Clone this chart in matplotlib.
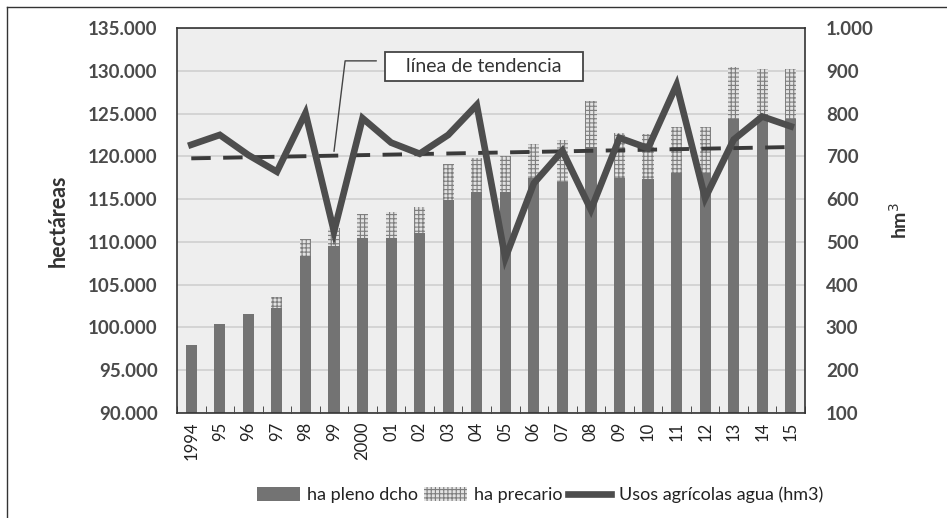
import numpy as np
import matplotlib
matplotlib.use("Agg")
import matplotlib.pyplot as plt
from matplotlib.patches import Patch
from matplotlib.lines import Line2D

plt.rcParams['font.family'] = ['Lato', 'DejaVu Sans']
plt.rcParams['hatch.linewidth'] = 0.8

years = ["1994", "95", "96", "97", "98", "99", "2000", "01", "02", "03", "04",
         "05", "06", "07", "08", "09", "10", "11", "12", "13", "14", "15"]
ha_pleno = [97950, 100400, 101600, 102250, 108300, 109500, 110400, 110400, 111000,
            114900, 115800, 115800, 117450, 117000, 121100, 117450, 117300, 118000,
            118000, 124400, 124700, 124400]
ha_total = [97950, 100400, 101600, 103600, 110300, 111600, 113200, 113500, 114100,
            119100, 119800, 120000, 121450, 121900, 126500, 122700, 122600, 123400,
            123400, 130400, 130200, 130200]
usos_agua = [727, 750, 703, 664, 801, 524, 789, 732, 706, 750, 820,
             462, 637, 713, 575, 743, 719, 867, 602, 739, 793, 770]

ha_precario = [t - p for t, p in zip(ha_total, ha_pleno)]

fig = plt.figure(figsize=(9.47, 5.18), dpi=100)
ax = fig.add_axes([0.1869, 0.2027, 0.6632, 0.7433])
ax.set_facecolor('#eeeeee')

x = np.arange(len(years))
bar_color = '#737373'
hatch_face = '#e2e2e2'
hatch_edge = '#7e7e7e'
ax.bar(x, ha_pleno, width=0.39, color=bar_color, zorder=2)
ax.bar(x, ha_precario, bottom=ha_pleno, width=0.39, facecolor=hatch_face,
       edgecolor=hatch_edge, hatch='++++', linewidth=0, zorder=2)

ax.set_ylim(90000, 135000)
ax.set_xlim(-0.5, len(years) - 0.5)
yt = np.arange(90000, 135001, 5000)
ax.set_yticks(yt)
ax.set_yticklabels([f"{v:,.0f}".replace(",", ".") for v in yt],
                   fontsize=13.5, fontweight='bold', color='#4a4a4a')
ax.set_xticks(x)
ax.set_xticklabels(years, rotation=90, fontsize=12, color='#222222')
ax.tick_params(axis='y', length=0, pad=14)
ax.set_xticks(np.arange(-0.5, len(years), 1), minor=True)
ax.tick_params(axis='x', which='minor', length=5, direction='in', color='#333333')
ax.tick_params(axis='x', which='major', length=0, pad=6)
ax.grid(axis='y', color='#cfcfcf', linewidth=1.2, zorder=0)
ax.set_axisbelow(True)
for s in ax.spines.values():
    s.set_color('#333333')
    s.set_linewidth(1.2)
ax.set_ylabel('hectáreas', fontsize=15.5, fontweight='bold', color='#333333', labelpad=14)

ax2 = ax.twinx()
ax2.set_ylim(100, 1000)
yt2 = np.arange(100, 1001, 100)
ax2.set_yticks(yt2)
ax2.set_yticklabels([f"{v:,.0f}".replace(",", ".") for v in yt2],
                    fontsize=13.5, fontweight='bold', color='#4a4a4a')
ax2.tick_params(axis='y', length=0, pad=15)
for s in ax2.spines.values():
    s.set_visible(False)
ax2.set_ylabel('hm$^3$', fontsize=14, fontweight='bold', color='#333333', labelpad=10)

line_color = '#4d4d4d'
ax2.plot(x, usos_agua, color=line_color, linewidth=4.8, solid_joinstyle='miter', zorder=4)

coef = np.polyfit(x, usos_agua, 1)
trend = np.polyval(coef, x)
ax2.plot(x, trend, color='#3a3a3a', linewidth=2.8, dashes=(5, 3.2), zorder=3)

ax2.annotate('   línea de tendencia   ', xy=(5, trend[5] + 10), xycoords='data',
             xytext=(0.511, 0.871), textcoords='figure fraction',
             ha='center', va='center', fontsize=14, color='#333333',
             bbox=dict(boxstyle='square,pad=0.3', facecolor='white',
                       edgecolor='#444444', linewidth=1.3),
             arrowprops=dict(arrowstyle='-', color='#444444', linewidth=1,
                             shrinkA=6, shrinkB=0,
                             connectionstyle='angle,angleA=0,angleB=83,rad=0',
                             relpos=(0, 0.85)),
             zorder=6)

handles = [Patch(facecolor=bar_color, edgecolor='none'),
           Patch(facecolor=hatch_face, edgecolor=hatch_edge, hatch='++++', linewidth=0),
           Line2D([0], [0], color=line_color, linewidth=4.8)]
labels = ['ha pleno dcho', 'ha precario', 'Usos agrícolas agua (hm3)']
fig.legend(handles, labels, loc='center', bbox_to_anchor=(0.57, 0.044), ncol=3,
           frameon=False, fontsize=13, handlelength=2.4, handleheight=0.8,
           handletextpad=0.4, columnspacing=0.3, labelcolor='#222222')

fig.add_artist(Line2D([0.0074, 0.0074], [0, 0.9865], transform=fig.transFigure,
                      color='#333333', linewidth=1))
fig.add_artist(Line2D([0.0074, 1.0], [0.9865, 0.9865], transform=fig.transFigure,
                      color='#333333', linewidth=1))

fig.savefig('out.png', dpi=100)
